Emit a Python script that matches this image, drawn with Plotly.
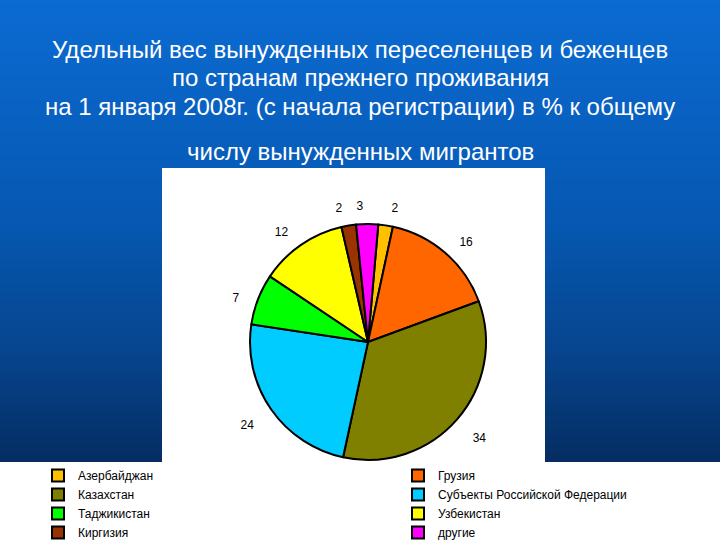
import plotly.graph_objects as go

# ---- data ----
countries = ["Азербайджан", "Грузия", "Казахстан", "Субъекты Российской Федерации",
             "Таджикистан", "Узбекистан", "Киргизия", "другие"]
shares = [2, 16, 34, 24, 7, 12, 2, 3]
slice_colors = ["#FFC000", "#FF6600", "#808000", "#00CCFF",
                "#00FF00", "#FFFF00", "#993300", "#FF00FF"]
title_lines = ["Удельный вес вынужденных переселенцев и беженцев",
               "по странам прежнего проживания",
               "на 1 января 2008г. (с начала регистрации) в % к общему"]
title_last = "числу вынужденных мигрантов"

W, H = 720, 540
CX, CY = 368, 342          # pie centre in pixels
R_PIE, R_LBL = 118, 134    # visible pie radius, label ring radius
LBL_DY = 5                 # label ring shifted slightly down

def dom(r, dy=0):
    return dict(x=[(CX - r) / W, (CX + r) / W],
                y=[1 - (CY + dy + r) / H, 1 - (CY + dy - r) / H])

# visible pie (no text)
fig = go.Figure(go.Pie(
    labels=countries, values=shares, sort=False, direction="clockwise",
    rotation=5,
    marker=dict(colors=slice_colors, line=dict(color="black", width=2)),
    textinfo="none",
    domain=dom(R_PIE),
    hoverinfo="label+value",
))

# transparent rings carrying the outside value labels (split so the small
# top labels do not get pushed apart by the collision avoidance)
last = len(shares) - 1
for show in (lambda i: i != last, lambda i: i == last):
    fig.add_trace(go.Pie(
        labels=countries, values=shares, sort=False, direction="clockwise",
        rotation=5,
        marker=dict(colors=["rgba(0,0,0,0)"] * len(shares), line=dict(width=0)),
        texttemplate=["%{value}" if show(i) else "" for i in range(len(shares))],
        textposition="outside",
        textfont=dict(family="Arial, Liberation Sans", size=12, color="black"),
        domain=dom(R_LBL, LBL_DY), showlegend=False, hoverinfo="skip",
    ))

# background gradient (style only)
stops = [(0, (11, 107, 210)), (230, (6, 87, 176)), (350, (7, 69, 142)), (462, (6, 45, 98))]
def col_at(y):
    for (y0, c0), (y1, c1) in zip(stops[:-1], stops[1:]):
        if y0 <= y <= y1:
            t = (y - y0) / (y1 - y0)
            return "rgb(%d,%d,%d)" % tuple(round(a + (b - a) * t) for a, b in zip(c0, c1))
    return "rgb(%d,%d,%d)" % stops[-1][1]

shapes = []
step = 4
for y in range(0, 462, step):
    y2 = min(y + step + 2, 462)
    shapes.append(dict(type="rect", xref="paper", yref="paper", layer="below",
                       x0=-0.01, x1=1.01, y0=1 - y2 / H, y1=1 - y / H,
                       fillcolor=col_at(y + step / 2), line=dict(width=0)))
# white chart box and legend strip
shapes.append(dict(type="rect", xref="paper", yref="paper", layer="below",
                   x0=162 / W, x1=545 / W, y0=1 - 463 / H, y1=1 - 168 / H,
                   fillcolor="white", line=dict(width=0)))
shapes.append(dict(type="rect", xref="paper", yref="paper", layer="below",
                   x0=-0.01, x1=1.01, y0=-0.01, y1=1 - 462 / H,
                   fillcolor="white", line=dict(width=0)))

tfont = dict(family="Arial, Liberation Sans", size=24, color="white")
annotations = []
for i, t in enumerate(title_lines):
    annotations.append(dict(text=t, x=0.5, y=1 - (50 + 28 * i) / H, xref="paper", yref="paper",
                            showarrow=False, xanchor="center", yanchor="middle", font=tfont))
annotations.append(dict(text=title_last, x=0.5, y=1 - 152 / H, xref="paper", yref="paper",
                        showarrow=False, xanchor="center", yanchor="middle", font=tfont))

fig.update_layout(
    width=W, height=H, margin=dict(l=0, r=0, t=0, b=0, pad=0, autoexpand=False),
    paper_bgcolor="white", plot_bgcolor="white",
    shapes=shapes, annotations=annotations,
    showlegend=True,
    legend=dict(orientation="h", x=38 / W, y=1 - 461 / H, xanchor="left", yanchor="top",
                entrywidth=315, entrywidthmode="pixels",
                font=dict(family="Arial, Liberation Sans", size=12, color="black"),
                bgcolor="rgba(0,0,0,0)", traceorder="normal", itemclick=False),
)

fig.write_html("out.html", config={"displayModeBar": False},
               post_script="document.body.style.margin='0';document.body.style.overflow='hidden';")
